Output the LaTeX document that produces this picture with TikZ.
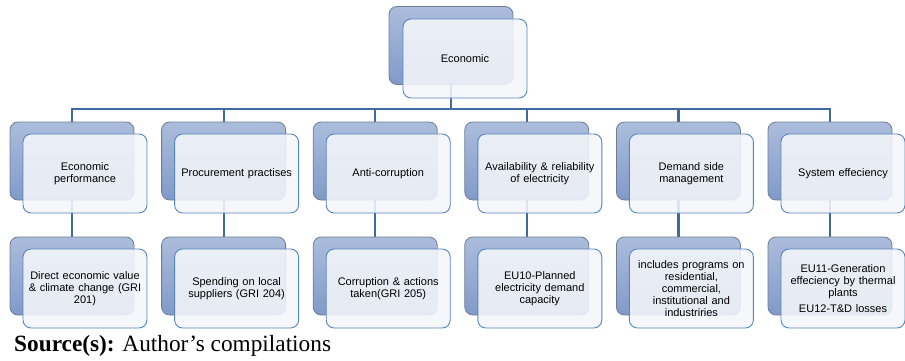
\documentclass[tikz,border=0pt]{standalone}
\usepackage{fontspec}
\setmainfont{Liberation Sans}
\newfontfamily\timesfont{Liberation Serif}
\usetikzlibrary{backgrounds}
\definecolor{conncol}{RGB}{64,106,160}
\definecolor{backtop}{RGB}{172,189,220}
\definecolor{backbot}{RGB}{128,154,200}
\definecolor{backborder}{RGB}{112,124,146}
\definecolor{frontborder}{RGB}{84,134,196}
\definecolor{frontfill}{RGB}{244,246,250}
\tikzset{
  backbox/.style={draw=backborder, line width=0.8pt, rounded corners=8pt,
    top color=backtop, bottom color=backbot,
    minimum width=124pt, minimum height=78pt, inner sep=0pt},
  frontbox/.style={draw=frontborder, line width=0.9pt, rounded corners=8pt,
    fill=frontfill, fill opacity=0.88, text opacity=1,
    minimum width=124pt, minimum height=79pt, inner sep=0pt,
    align=center, text width=122pt,
    font=\fontsize{11}{12.2}\selectfont},
  conn/.style={draw=conncol, line width=2.2pt},
}
\begin{document}
\begin{tikzpicture}[x=1pt,y=-1pt]
\useasboundingbox (0,0) rectangle (905,361);
% top
\node[backbox] (tb) at (451,45.5) {};
\node[frontbox] (tf) at (465,58.5) {Economic};
\coordinate (bus) at (451,109);
% level 1 and 2
\foreach \i/\la/\lb in {
  0/{Economic\\performance}/{Direct economic value\\\& climate change (GRI\\201)},
  1/{Procurement practises}/{Spending on local\\suppliers (GRI 204)},
  2/{Anti-corruption}/{Corruption \& actions\\taken(GRI 205)},
  3/{Availability \& reliability\\of electricity}/{EU10-Planned\\electricity demand\\capacity},
  4/{Demand side\\management}/{includes programs on\\residential,\\commercial,\\institutional and\\industriries},
  5/{System effeciency}/{EU11-Generation\\effeciency by thermal\\plants\\[4pt]EU12-T\&D losses}} {
  \pgfmathsetmacro{\cx}{72+151.6*\i}
  \node[backbox] (ab\i) at (\cx,161) {};
  \node[frontbox] (af\i) at (\cx+13,173.5) {\la};
  \node[backbox] (bb\i) at (\cx,276) {};
  \node[frontbox] (bf\i) at (\cx+13,288.5) {\lb};
  \begin{pgfonlayer}{background}
    \draw[conn] (bus) -| (ab\i.north);
    \draw[conn] (ab\i.south) -- (bb\i.north);
  \end{pgfonlayer}
}
\begin{pgfonlayer}{background}
  \draw[conn] (tb.south) -- (bus);
\end{pgfonlayer}
\node[anchor=base west, inner sep=0pt, font=\timesfont\fontsize{23.3}{27}\selectfont] (src) at (14,351) {\textbf{Source(s):} Author’s compilations};
\end{tikzpicture}
\end{document}
